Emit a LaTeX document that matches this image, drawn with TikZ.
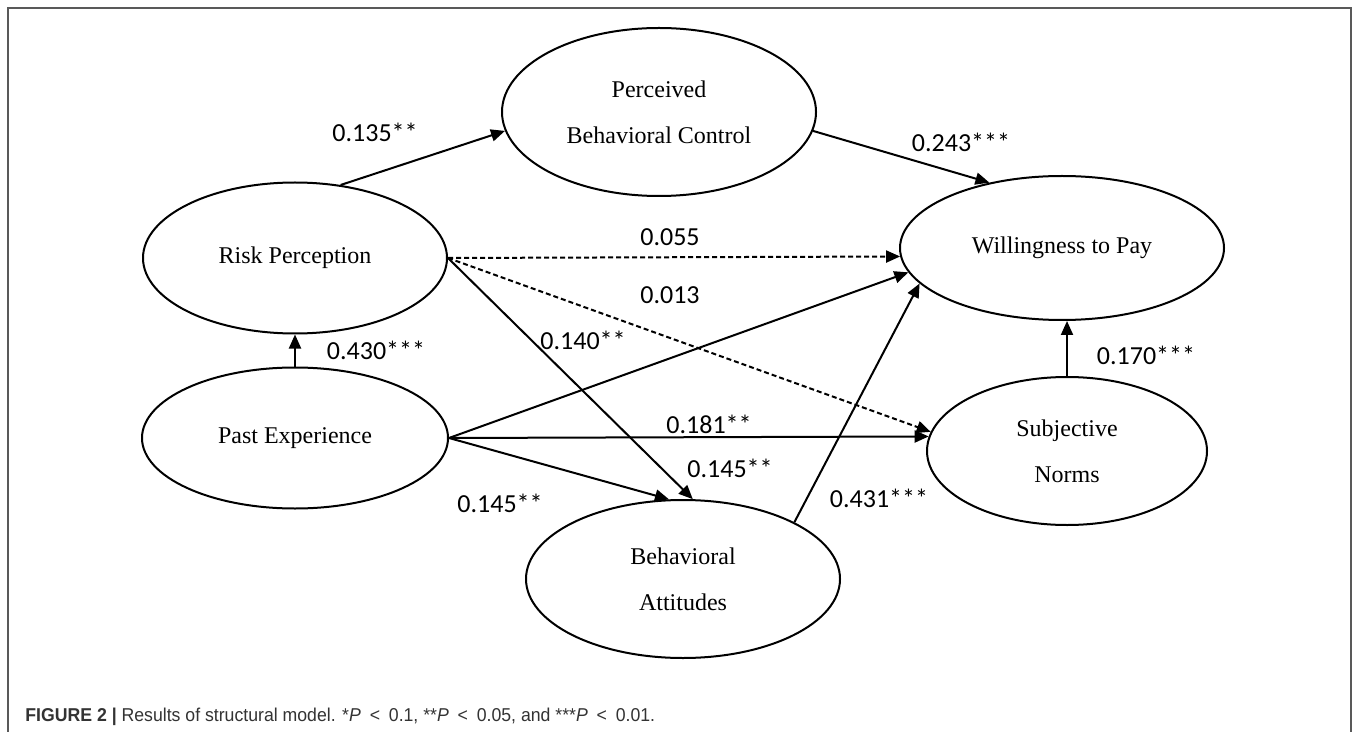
\documentclass[tikz,border=0pt]{standalone}
\usepackage{fontspec}
\setmainfont{Liberation Serif}
\newfontfamily\lblfont{Carlito}
\newfontfamily\capfont{Liberation Sans}
\usetikzlibrary{arrows.meta,shapes.geometric}
\begin{document}
\begin{tikzpicture}[x=0.5pt,y=-0.5pt,
  latent/.style={draw, ellipse, line width=1pt, inner sep=0pt, align=center,
    font=\fontsize{12}{23}\selectfont},
  sigpath/.style={line width=1pt, -{Triangle[length=7pt,width=6pt]}},
  nspath/.style={sigpath, dash pattern=on 2.5pt off 1.5pt},
  coef/.style={font=\lblfont\fontsize{13}{15}\selectfont, inner sep=0pt},
  frameline/.style={draw=black!65, line width=0.8pt}
]
\useasboundingbox (0,0) rectangle (1358,732);
\fill[white] (0,0) rectangle (1358,732);
\draw[frameline] (8,732) -- (8,8) -- (1351,8) -- (1351,732);

% latent variables
\node[latent, minimum width=157pt, minimum height=84pt] (pbc) at (659,112) {Perceived\\Behavioral Control};
\node[latent, minimum width=152pt, minimum height=75.5pt] (risk) at (295,258) {Risk Perception};
\node[latent, minimum width=153pt, minimum height=70.5pt] (past) at (295,438) {Past Experience};
\node[latent, minimum width=157pt, minimum height=79pt] (ba) at (683,579) {Behavioral\\Attitudes};
\node[latent, minimum width=162pt, minimum height=72pt] (wtp) at (1062,248) {Willingness to Pay};
\node[latent, minimum width=140pt, minimum height=74pt] (sn) at (1067,451) {Subjective\\Norms};

% paths
\draw[sigpath] (risk.58) -- (pbc.187);
\draw[sigpath] (pbc.-7) -- (wtp.138);
\draw[nspath] (risk.east) -- (wtp.183);
\draw[nspath] (risk.east) -- (sn.172);
\draw[sigpath] (risk.east) -- (ba.83);
\draw[sigpath] (past.north) -- (risk.south);
\draw[sigpath] (past.east) -- (wtp.189);
\draw[sigpath] (past.east) -- (sn.174);
\draw[sigpath] (past.east) -- (ba.100);
\draw[sigpath] (ba.27) -- (wtp.194);
\draw[sigpath] (sn.north) -- (sn.north |- wtp.south);

% coefficients
\node[coef] (c1) at (375,132) {0.135**};
\node[coef] (c2) at (961,142) {0.243***};
\node[coef] (c3) at (670,237) {0.055};
\node[coef] (c4) at (670,295) {0.013};
\node[coef] (c5) at (583,340) {0.140**};
\node[coef] (c6) at (376,350) {0.430***};
\node[coef] (c7) at (1146,355) {0.170***};
\node[coef] (c8) at (709,424) {0.181**};
\node[coef] (c9) at (730,468) {0.145**};
\node[coef] (c10) at (500,503) {0.145**};
\node[coef] (c11) at (879,498) {0.431***};

% caption
\node[anchor=west, inner sep=0pt, text=black!80, font=\capfont\fontsize{9.3}{11}\selectfont] (cap) at (25,717)
  {\scalebox{0.95}[1]{\textbf{FIGURE 2 |} Results of structural model. *\textit{P}\enspace<\enspace0.1, **\textit{P}\enspace<\enspace0.05, and ***\textit{P}\enspace<\enspace0.01.}};
\end{tikzpicture}
\end{document}
